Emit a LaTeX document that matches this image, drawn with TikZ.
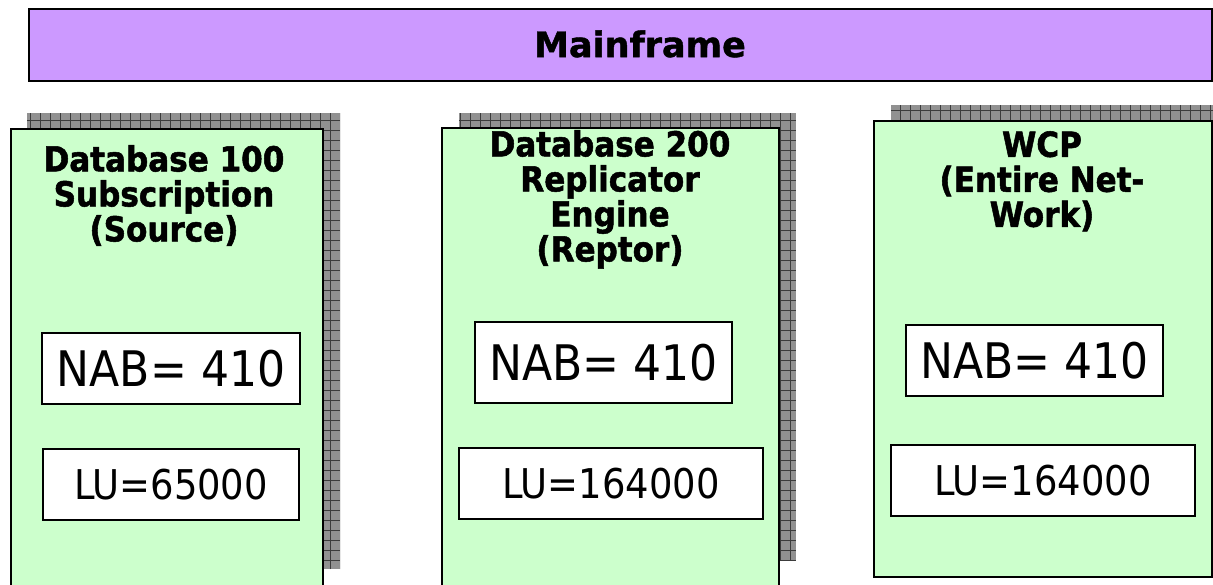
\documentclass[tikz,border=0pt]{standalone}
\usepackage{fontspec}
\setmainfont{DejaVu Sans}
\newfontfamily\condfont{DejaVu Sans Condensed}
\newfontfamily\heavyfont[FakeBold=1.2]{DejaVu Sans Bold}
\newfontfamily\heavycond[FakeBold=1.5]{DejaVu Sans Condensed Bold}
\definecolor{mfpurple}{RGB}{204,153,255}
\definecolor{dbgreen}{RGB}{204,255,204}
\definecolor{shadowgray}{RGB}{145,145,145}
\definecolor{gridgray}{RGB}{60,60,60}
\tikzset{
  mainbox/.style={draw=black, line width=2pt, fill=mfpurple, inner sep=0pt},
  dbbox/.style={draw=black, line width=2pt, fill=dbgreen, inner sep=0pt},
  valbox/.style={draw=black, line width=1.6pt, fill=white, inner sep=0pt},
  nabtext/.style={font=\condfont\fontsize{49}{53}\selectfont},
  lutext/.style={font=\condfont\fontsize{41}{45}\selectfont},
  titletext/.style={font=\heavycond\fontsize{34.5}{35}\selectfont, align=center, inner sep=0pt, anchor=north},
  shadowfill/.style={fill=shadowgray},
  shadowgrid/.style={draw=gridgray, line width=0.7pt}
}
\newcommand{\patshadow}[4]{%
  \begin{scope}
    \clip (#1,#2) rectangle (#3,#4);
    \fill[shadowfill] (#1,#2) rectangle (#3,#4);
    \draw[shadowgrid, step=10pt] (#1,#2) grid (#3,#4);
  \end{scope}}
\begin{document}
\begin{tikzpicture}[x=1pt,y=-1pt]
\useasboundingbox (0,0) rectangle (1213,584);
% Mainframe
\node[mainbox, minimum width=1183pt, minimum height=72pt] (mf) at (620.5,45) {};
\node[font=\heavyfont\fontsize{35}{40}\selectfont, inner sep=0pt] (mflabel) at (640,44) {Mainframe};
% shadows
\patshadow{27}{113}{340}{569}
\patshadow{459}{113}{796}{560}
\patshadow{891}{105}{1229}{561}
% green boxes
\node[dbbox, minimum width=312pt, minimum height=457pt] (db1) at (167,357.5) {};
\node[dbbox, minimum width=337pt, minimum height=464pt] (db2) at (610.5,360) {};
\node[dbbox, minimum width=338pt, minimum height=456pt] (db3) at (1043,349) {};
% titles
\node[titletext] (t1) at (164,145) {Database 100\\Subscription\\(Source)};
\node[titletext] (t2) at (610,130) {Database 200\\Replicator\\Engine\\(Reptor)};
\node[titletext] (t3) at (1042,131) {WCP\\(Entire Net-\\Work)};
% value boxes
\node[valbox, nabtext, minimum width=258pt, minimum height=71pt] (nab1) at (171,368.5) {NAB= 410};
\node[valbox, lutext, minimum width=256pt, minimum height=71pt] (lu1) at (171,484.5) {LU=65000};
\node[valbox, nabtext, minimum width=257pt, minimum height=81pt] (nab2) at (603.5,362.5) {NAB= 410};
\node[valbox, lutext, minimum width=304pt, minimum height=71pt] (lu2) at (611,483.5) {LU=164000};
\node[valbox, nabtext, minimum width=257pt, minimum height=71pt] (nab3) at (1034.5,360.5) {NAB= 410};
\node[valbox, lutext, minimum width=304pt, minimum height=71pt] (lu3) at (1043,480.5) {LU=164000};
\end{tikzpicture}
\end{document}
